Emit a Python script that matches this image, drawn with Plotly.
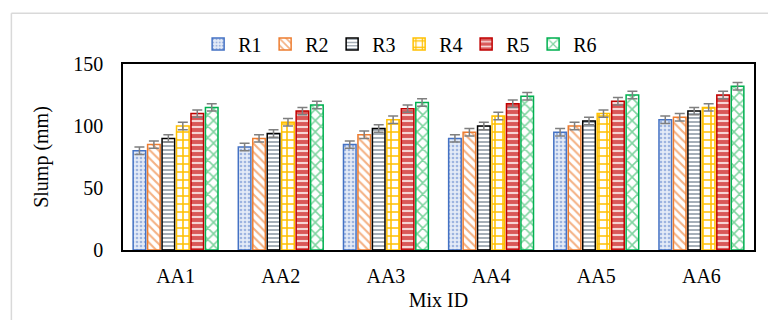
import plotly.graph_objects as go

# Slump test results per mix, six replicates each
mixes = ["AA1", "AA2", "AA3", "AA4", "AA5", "AA6"]
r1 = [80, 83, 85, 90, 95, 105]
r2 = [85, 90, 93, 95, 100, 107]
r3 = [90, 94, 98, 100, 104, 112]
r4 = [100, 103, 105, 108, 110, 115]
r5 = [110, 112, 114, 118, 120, 125]
r6 = [115, 117, 119, 124, 125, 132]
err = [3, 3, 3, 3, 3, 3]

# name, values, outline, pattern colour, background, pattern shape, pattern size
series = [
    ("R1", r1, "#4472C4", "#9DB4E0", "#E4EBF7", ".", 4),
    ("R2", r2, "#ED7D31", "#F4B183", "#FFFFFF", "\\", 6),
    ("R3", r3, "#000000", "#7F8C9A", "#FFFFFF", "-", 4),
    ("R4", r4, "#FFC000", "#FFC000", "#FFFFFF", "+", 8),
    ("R5", r5, "#C00000", "#F6D5D5", "#D95858", "-", 6),
    ("R6", r6, "#00B050", "#7FD4A0", "#FFFFFF", "x", 8),
]

fig = go.Figure()
for name, vals, line_col, fg, bg, shape, psize in series:
    fig.add_trace(go.Bar(
        name=name, x=mixes, y=vals,
        marker=dict(
            color=bg,
            line=dict(color=line_col, width=1.5),
            pattern=dict(shape=shape, fgcolor=fg, bgcolor=bg,
                         size=psize, solidity=0.35, fillmode="replace"),
        ),
        error_y=dict(type="data", array=err, color="#7F7F7F",
                     thickness=1.5, width=5),
    ))

font_family = "Liberation Serif, Times New Roman, serif"
fig.update_layout(
    width=768, height=320,
    margin=dict(l=123, r=12, t=64, b=69),
    paper_bgcolor="white", plot_bgcolor="white",
    barmode="group", bargap=0.175, bargroupgap=0.13,
    font=dict(family=font_family, size=20, color="#000000"),
    showlegend=True,
    legend=dict(orientation="h", x=0.4376, xanchor="center", y=1.107,
                yanchor="middle", font=dict(size=20),
                itemwidth=30, entrywidth=22, entrywidthmode="pixels",
                tracegroupgap=0, bgcolor="rgba(0,0,0,0)"),
    xaxis=dict(showline=True, linecolor="#000000", linewidth=1.5,
               mirror=True, ticks="", tickfont=dict(size=20),
               ticklabelstandoff=7,
               title=dict(text="Mix ID", font=dict(size=20), standoff=7)),
    yaxis=dict(range=[0, 150], tickvals=[0, 50, 100, 150],
               showline=True, linecolor="#000000", linewidth=1.5,
               mirror=True, showgrid=False, zeroline=False, ticks="",
               tickfont=dict(size=20), ticklabelstandoff=14,
               title=dict(text="Slump (mm)", font=dict(size=20), standoff=19)),
    shapes=[
        dict(type="line", xref="paper", yref="paper",
             x0=-0.1769, x1=-0.1769, y0=1.2727, y1=-0.4,
             line=dict(color="#D9D9D9", width=1.5)),
        dict(type="line", xref="paper", yref="paper",
             x0=-0.1769, x1=1.05, y0=1.2727, y1=1.2727,
             line=dict(color="#D9D9D9", width=1.5)),
    ],
)

fig.write_html("out.html")
